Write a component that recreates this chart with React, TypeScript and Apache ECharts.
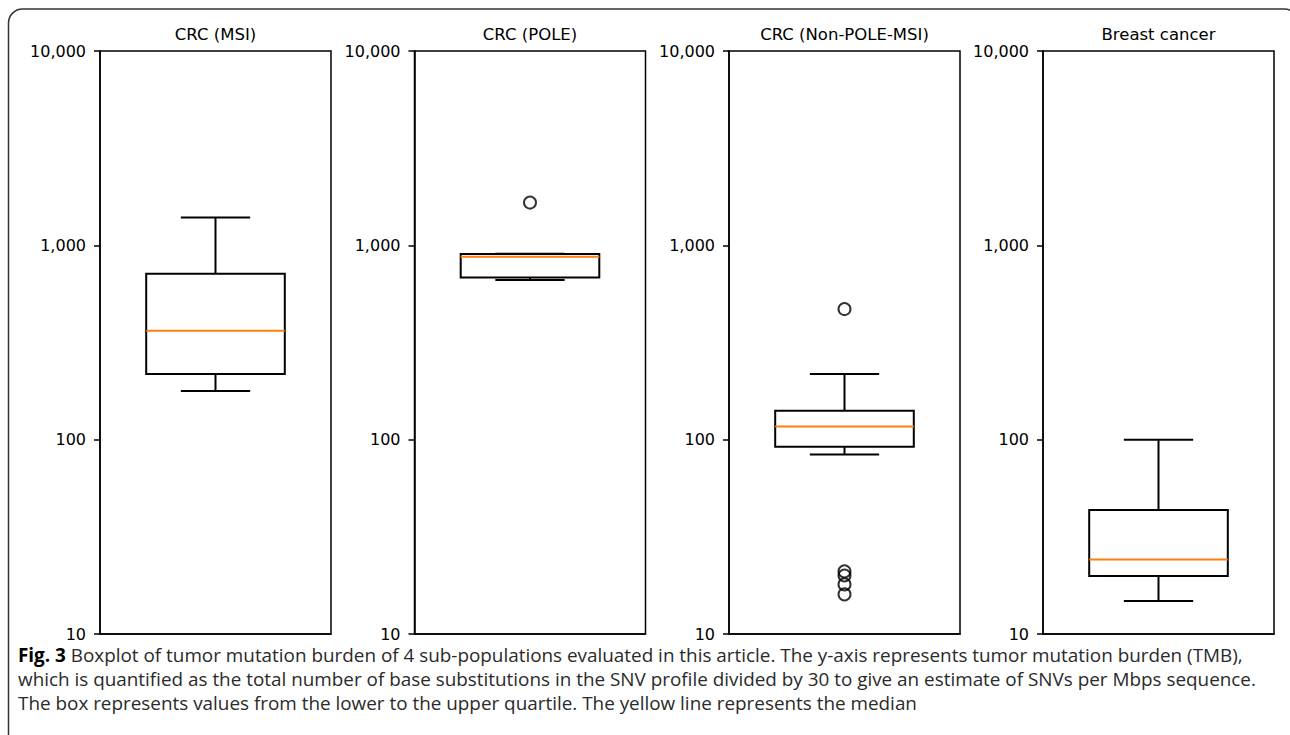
import React, { useEffect, useRef } from 'react';
import * as echarts from 'echarts';

const groups = ['CRC (MSI)', 'CRC (POLE)', 'CRC (Non-POLE-MSI)', 'Breast cancer'];
// [lower whisker, Q1, median, Q3, upper whisker]
const boxStats = [
  [178, 218, 363, 714, 1390],
  [663, 684, 873, 902, 906],
  [84, 92, 117, 141, 218],
  [14.8, 19.9, 24.2, 43.4, 100],
];
const outliers: number[][] = [
  [],
  [1660],
  [470, 21, 20, 18, 16],
  [],
];
const yMin = 10;
const yMax = 10000;
const captionLines = [
  '{b|Fig. 3} Boxplot of tumor mutation burden of 4 sub-populations evaluated in this article. The y-axis represents tumor mutation burden (TMB),',
  'which is quantified as the total number of base substitutions in the SNV profile divided by 30 to give an estimate of SNVs per Mbps sequence.',
  'The box represents values from the lower to the upper quartile. The yellow line represents the median',
];

const gridLefts = [100, 414.5, 729, 1043];
const gridWidth = 231;
const gridTop = 51;
const gridHeight = 583;
const captionFont = 'Open Sans';

function fitSize(family: string, prefixes: string[], target: number) {
  const ctx = document.createElement('canvas').getContext('2d');
  if (!ctx) return 17;
  ctx.font = `100px "${family}"`;
  const sizes = prefixes.map((p) => (100 * target) / ctx.measureText(p).width);
  return sizes.reduce((a, b) => a + b, 0) / sizes.length;
}

export default function App() {
  const ref = useRef<HTMLDivElement>(null);
  useEffect(() => {
    document.body.style.margin = '0';
    if (!ref.current) return;
    const chart = echarts.init(ref.current, undefined, { renderer: 'svg' });
    const capSize = fitSize(
      captionFont,
      [
        'The box represents values from the lower to the upper quartile. The yellow lin',
        'which is quantified as the total number of base substitutions in the SNV profil',
      ],
      682
    );
    const grids = groups.map((_, i) => ({
      left: gridLefts[i],
      top: gridTop,
      width: gridWidth,
      height: gridHeight,
      show: true,
      borderColor: '#000',
      borderWidth: 1.5,
      backgroundColor: 'transparent',
    }));
    const xAxes = groups.map((g, i) => ({
      type: 'category',
      gridIndex: i,
      data: [g],
      axisLine: { show: true, lineStyle: { color: '#000', width: 1.5 } },
      axisTick: { show: false },
      axisLabel: { show: false },
      splitLine: { show: false },
    }));
    const yAxes = groups.map((_, i) => ({
      type: 'log',
      logBase: 10,
      gridIndex: i,
      min: yMin,
      max: yMax,
      axisLine: { show: true, lineStyle: { color: '#000', width: 1.5 } },
      axisTick: { show: true, length: 6, lineStyle: { color: '#000', width: 1.5 } },
      axisLabel: {
        color: '#000',
        fontSize: 16,
        fontFamily: 'DejaVu Sans',
        margin: 14,
        formatter: (v: number) => Math.round(v).toLocaleString('en-US'),
      },
      splitLine: { show: false },
      minorTick: { show: false },
    }));
    const boxSeries = groups.map((_, i) => ({
      type: 'custom',
      xAxisIndex: i,
      yAxisIndex: i,
      data: [[0, ...boxStats[i]]],
      encode: { x: 0, y: [1, 2, 3, 4, 5] },
      renderItem: (params: any, api: any) => {
        const lo = api.coord([0, api.value(1)]);
        const q1 = api.coord([0, api.value(2)]);
        const med = api.coord([0, api.value(3)]);
        const q3 = api.coord([0, api.value(4)]);
        const hi = api.coord([0, api.value(5)]);
        const w = params.coordSys.width;
        const cx = lo[0];
        const bw = w * 0.6;
        const cw = w * 0.3;
        const ls = { stroke: '#000', lineWidth: 2 };
        return {
          type: 'group',
          children: [
            { type: 'line', shape: { x1: cx, y1: q3[1], x2: cx, y2: hi[1] }, style: ls },
            { type: 'line', shape: { x1: cx - cw / 2, y1: hi[1], x2: cx + cw / 2, y2: hi[1] }, style: ls },
            { type: 'line', shape: { x1: cx, y1: q1[1], x2: cx, y2: lo[1] }, style: ls },
            { type: 'line', shape: { x1: cx - cw / 2, y1: lo[1], x2: cx + cw / 2, y2: lo[1] }, style: ls },
            {
              type: 'rect',
              shape: { x: cx - bw / 2, y: q3[1], width: bw, height: q1[1] - q3[1] },
              style: { fill: 'rgba(0,0,0,0)', stroke: '#000', lineWidth: 2 },
            },
            {
              type: 'line',
              shape: { x1: cx - bw / 2, y1: med[1], x2: cx + bw / 2, y2: med[1] },
              style: { stroke: '#ff7f0e', lineWidth: 2 },
            },
          ],
        };
      },
    }));
    const outlierSeries = groups.map((_, i) => ({
      type: 'scatter',
      xAxisIndex: i,
      yAxisIndex: i,
      data: outliers[i].map((v) => [0, v]),
      symbol: 'circle',
      symbolSize: 12,
      itemStyle: { color: 'rgba(0,0,0,0)', borderColor: '#000', borderWidth: 2 },
      z: 5,
    }));
    const titles = groups.map((g, i) => ({
      type: 'text',
      x: gridLefts[i] + gridWidth / 2,
      y: 34,
      style: {
        text: g,
        fill: '#000',
        font: '16.5px "DejaVu Sans"',
        textAlign: 'center',
        textVerticalAlign: 'middle',
      },
    }));
    const caption = captionLines.map((t, i) => ({
      type: 'text',
      x: 18,
      y: 655 + i * 24,
      style: {
        text: t,
        fill: '#2a2a2a',
        fontFamily: captionFont,
        fontSize: capSize,
        textVerticalAlign: 'middle',
        rich: {
          b: { fontWeight: 'bold', fill: '#000', fontFamily: captionFont, fontSize: capSize },
        },
      },
    }));
    chart.setOption({
      animation: false,
      backgroundColor: '#fff',
      grid: grids,
      xAxis: xAxes,
      yAxis: yAxes,
      series: [...boxSeries, ...outlierSeries],
      graphic: [
        {
          type: 'rect',
          shape: { x: 8.5, y: 9, width: 1290, height: 800, r: 14 },
          style: { fill: 'none', stroke: '#333', lineWidth: 1.5 },
        },
        ...titles,
        ...caption,
      ],
    });
    return () => chart.dispose();
  }, []);
  return <div ref={ref} style={{ width: 1290, height: 735 }} />;
}
